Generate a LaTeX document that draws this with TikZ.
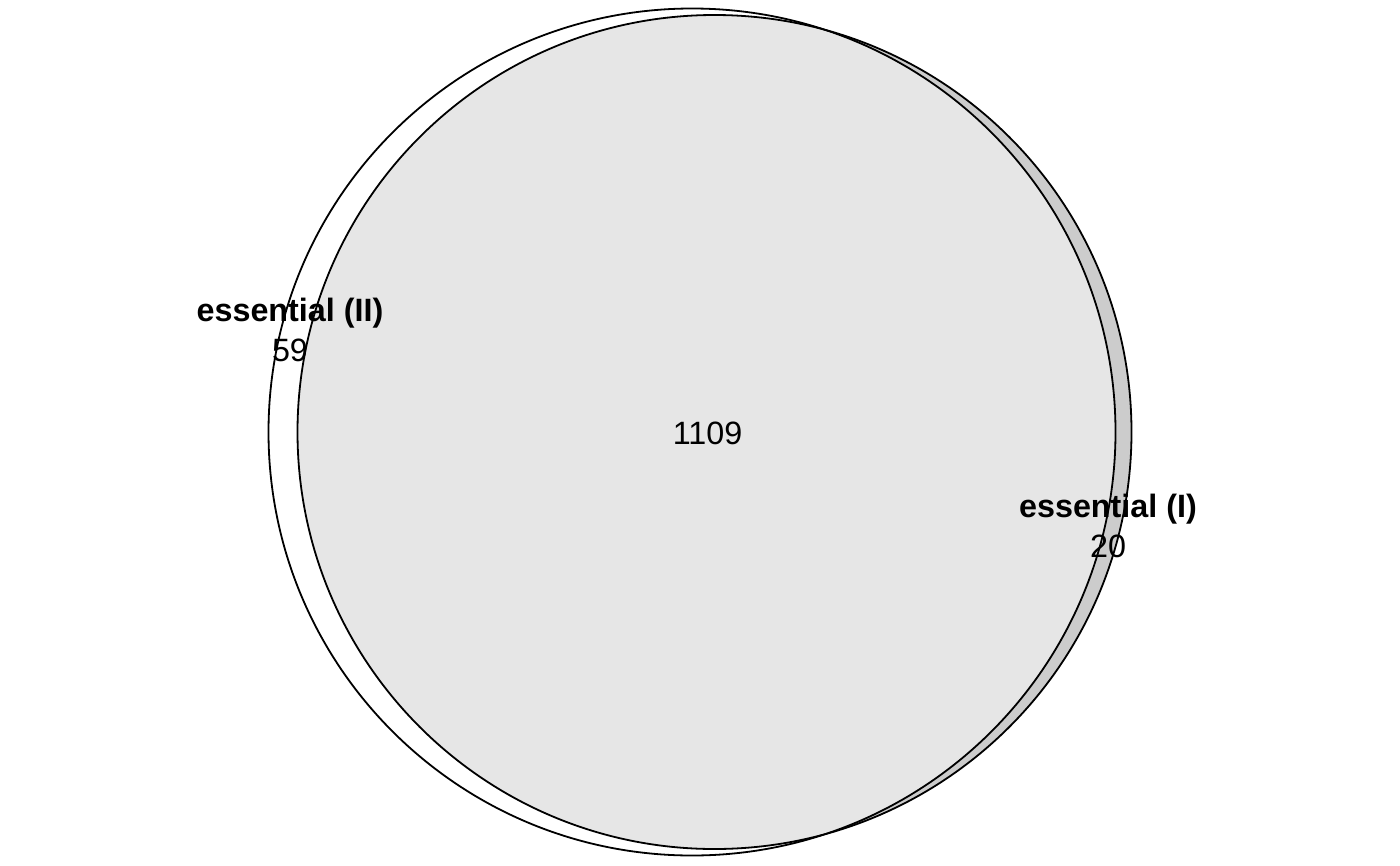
\documentclass[tikz,border=0pt]{standalone}
\usepackage{fontspec}
\setmainfont{Liberation Sans}
\definecolor{onlyI}{HTML}{CCCCCC}
\definecolor{both}{HTML}{E6E6E6}
\tikzset{
  setline/.style={draw=black, line width=1.8pt},
  lbl/.style={inner sep=0pt, font=\fontsize{32.3}{38}\selectfont\bfseries},
  cnt/.style={inner sep=0pt, font=\fontsize{32.3}{38}\selectfont},
}
\begin{document}
\begin{tikzpicture}[x=1pt,y=-1pt]
\useasboundingbox (0,0) rectangle (1400,865);
% circle B (essential I) only-part
\fill[onlyI] (714.5,432) circle[radius=417];
% intersection
\begin{scope}
  \clip (692,432) circle[radius=423.5];
  \fill[both] (714.5,432) circle[radius=417];
\end{scope}
\draw[setline] (692,432) circle[radius=423.5];
\draw[setline] (714.5,432) circle[radius=417];
\node[lbl] (lII) at (290,313.5) {essential (II)};
\node[cnt] (n59) at (290,350) {59};
\node[cnt] (n1109) at (707.5,433) {1109};
\node[lbl] (lI) at (1108,509.5) {essential (I)};
\node[cnt] (n20) at (1108,546) {20};
\end{tikzpicture}
\end{document}
